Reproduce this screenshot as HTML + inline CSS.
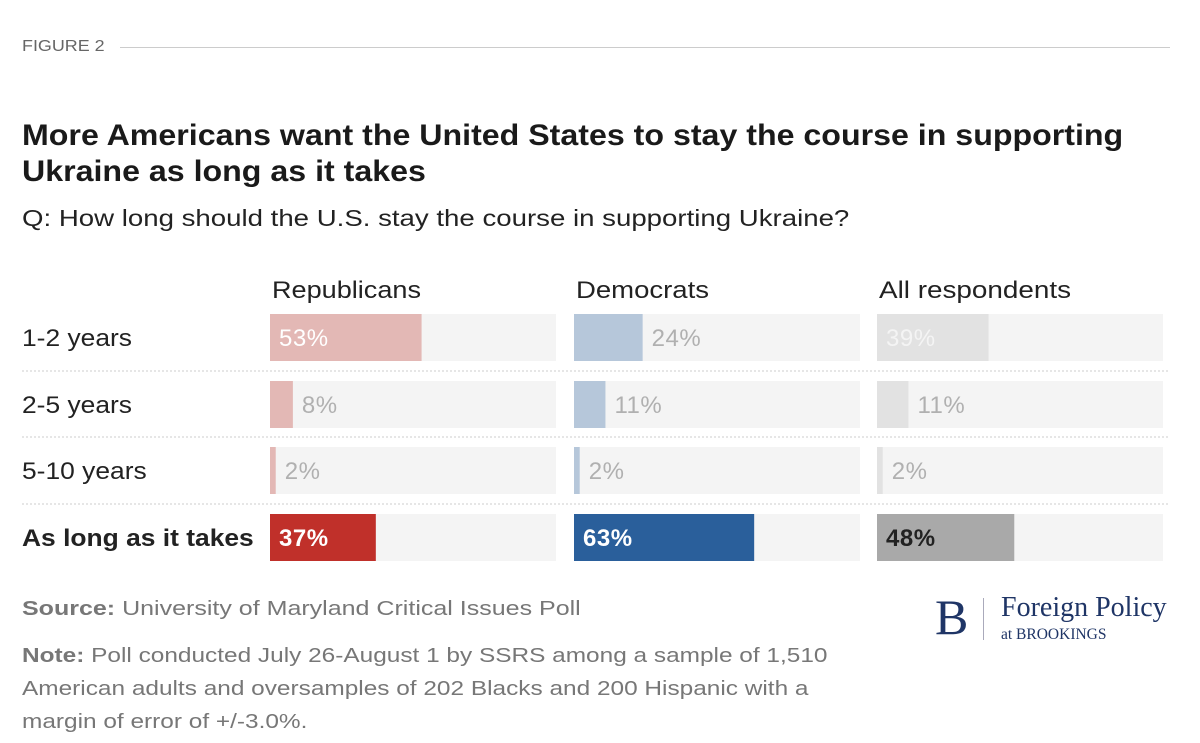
<!DOCTYPE html>
<html><head><meta charset="utf-8"><style>
body{margin:0;width:1200px;height:743px;background:#fff;font-family:"Liberation Sans",sans-serif;position:relative;overflow:hidden}
.t{position:absolute;white-space:nowrap;transform-origin:0 0}
</style></head><body>
<div class="t" style="left:22px;top:38px;font-size:16px;color:#666;transform:scaleX(1.12)">FIGURE 2</div>
<div style="position:absolute;left:120px;top:47px;width:1050px;height:1px;background:#ccc"></div>
<div class="t" style="left:22px;top:118px;font-size:29.5px;font-weight:bold;color:#1a1a1a;line-height:36px;transform:scaleX(1.09)">More Americans want the United States to stay the course in supporting<br>Ukraine as long as it takes</div>
<div class="t" style="left:22px;top:205px;font-size:23.5px;color:#222;transform:scaleX(1.175)">Q: How long should the U.S. stay the course in supporting Ukraine?</div>
<svg id="chart" width="1200" height="600" style="position:absolute;left:0;top:0" font-family="Liberation Sans, sans-serif"></svg>
<div class="t" style="left:22px;top:597px;font-size:20.5px;color:#777;transform:scaleX(1.22)"><b>Source:</b> University of Maryland Critical Issues Poll</div>
<div class="t" style="left:22px;top:639px;font-size:20.5px;color:#777;line-height:33px;transform:scaleX(1.19)"><b>Note:</b> Poll conducted July 26-August 1 by SSRS among a sample of 1,510<br>American adults and oversamples of 202 Blacks and 200 Hispanic with a<br>margin of error of +/-3.0%.</div>
<div style="position:absolute;left:935px;top:592px;color:#1f3566;font-family:'Liberation Serif',serif">
<span style="position:absolute;left:0;top:0;font-size:50px;line-height:50px">B</span>
<span style="position:absolute;left:48px;top:6px;width:1px;height:42px;background:#aab"></span>
<span class="t" style="left:66px;top:0;font-size:28px">Foreign Policy</span>
<span class="t" style="left:66px;top:34px;font-size:15.5px">at BROOKINGS</span></div>
<script>
const categories=["1-2 years","2-5 years","5-10 years","As long as it takes"];
const groups=["Republicans","Democrats","All respondents"];
const republicans=[53,8,2,37];
const democrats=[24,11,2,63];
const allRespondents=[39,11,2,48];
const series=[republicans,democrats,allRespondents];
const svg=document.getElementById('chart');
const NS='http://www.w3.org/2000/svg';
const trackX=[270,574,877],trackW=286,rowY=[314,381,447,514],barH=47;
const light=['#e3b8b5','#b6c7da','#e2e2e2'],dark=['#c0302a','#2a5f9b','#a9a9a9'];
const xs=v=>v/100*trackW;
function el(t,a){const e=document.createElementNS(NS,t);for(const k in a)e.setAttribute(k,a[k]);svg.appendChild(e);return e;}
groups.forEach((g,i)=>{const t=el('text',{x:trackX[i]+2,y:298,'font-size':24,fill:'#222',textLength:[149,133,192][i],lengthAdjust:'spacingAndGlyphs'});t.textContent=g;

});
categories.forEach((c,r)=>{const last=r===categories.length-1;
const t=el('text',{x:22,y:rowY[r]+32,'font-size':24,fill:'#222','font-weight':last?'bold':'normal'});t.textContent=c;
t.setAttribute('transform','translate(22 0) scale(1.1 1) translate(-22 0)');


if(r>0){const l=el('line',{x1:22,x2:1170,y1:rowY[r]-10,y2:rowY[r]-10,stroke:'#ccc','stroke-dasharray':'2,2'});

}
series.forEach((s,i)=>{const v=s[r];
const tr=el('rect',{x:trackX[i],y:rowY[r],width:trackW,height:barH,fill:'#f4f4f4'});


const b=el('rect',{x:trackX[i],y:rowY[r],width:xs(v),height:barH,fill:last?dark[i]:light[i]});


const inside=xs(v)>70;
let fill=inside?(last?(i==2?'#222':'#fff'):'#fff'):'#b0b0b0';
if(inside&&!last&&i==2)fill='#f4f4f4';
const lab=el('text',{x:inside?trackX[i]+9:trackX[i]+xs(v)+9,y:rowY[r]+32,'font-size':24,fill:fill,'font-weight':last?'bold':'normal','letter-spacing':0.5});
lab.textContent=v+'%';

});});
</script>
</body></html>
